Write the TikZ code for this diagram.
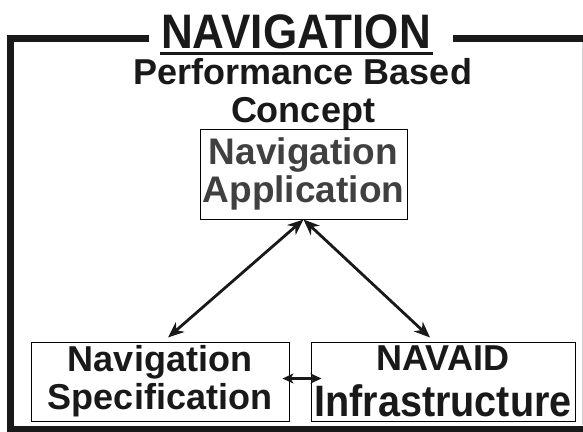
\documentclass[tikz,border=0pt]{standalone}
\usepackage{xcolor}
\usepackage{graphicx}
\usepackage{fontspec}
\setmainfont{Liberation Sans}
\usepackage{tikz}
\usetikzlibrary{arrows.meta}

\begin{document}
\begin{tikzpicture}[x=1pt, y=-1pt]
    % Define the styles
    \tikzstyle{box} = [rectangle, draw, line width=1pt, inner sep=0pt, align=center, font=\bfseries\fontsize{36}{38}\selectfont, text=black!90]
    \tikzstyle{link} = [draw, {Stealth[length=16pt, width=13pt, inset=5pt]}-{Stealth[length=16pt, width=13pt, inset=5pt]}, line width=2.8pt, black!90]
    \tikzstyle{shortlink} = [draw, {Stealth[length=11pt, width=10pt, inset=3pt]}-{Stealth[length=11pt, width=10pt, inset=3pt]}, line width=2.8pt, black!90]
    \tikzstyle{frame} = [draw, line width=7pt, black!90]

    \useasboundingbox (0,0) rectangle (583,431);

    % Heading
    \node [font=\bfseries\fontsize{44}{50}\selectfont, inner sep=0pt, anchor=base west, text=black!90] (title) at (161,48) {\scalebox{1}[1.1]{NAVIGATION}};
    \node [font=\bfseries\fontsize{36}{38}\selectfont, inner sep=0pt, align=center, text=black!90] (concept) at (303,94) {Performance Based\\Concept};
    \draw [line width=3pt, black!90] ([xshift=-1pt, yshift=-5pt]title.base west) -- ([xshift=2pt, yshift=-5pt]title.base east);

    % Outer frame
    \path [frame] (149,38) -- (10,38) -- (10,431);
    \path [frame] (453,38) -- (583,38);
    \path [frame] (7,429) -- (583,429);
    \draw [gray!35, line width=1pt] (582,42) -- (582,425);

    % Place the boxes
    \node [box, minimum width=207pt, minimum height=90pt, text=black!75, font=\bfseries\fontsize{37}{38}\selectfont] (application) at (303.5,174) {Navigation\\Application};
    \node [box, minimum width=258pt, minimum height=79pt] (specification) at (160,381.5) {Navigation\\Specification};
    \node [box, minimum width=264pt, minimum height=79pt] (navaid) at (443,381.5) {NAVAID\\[8pt]{\fontsize{44}{47}\selectfont\scalebox{0.9}[1]{Infrastructure}}};

    % Connect the boxes
    \path [link] (application.south) -- ([xshift=8pt, yshift=4pt]specification.north);
    \path [link] (application.south) -- ([xshift=-13pt, yshift=4pt]navaid.north);
    \path [shortlink] ([xshift=-7pt, yshift=3pt]specification.east) -- ([xshift=11pt, yshift=3pt]navaid.west);
\end{tikzpicture}
\end{document}
